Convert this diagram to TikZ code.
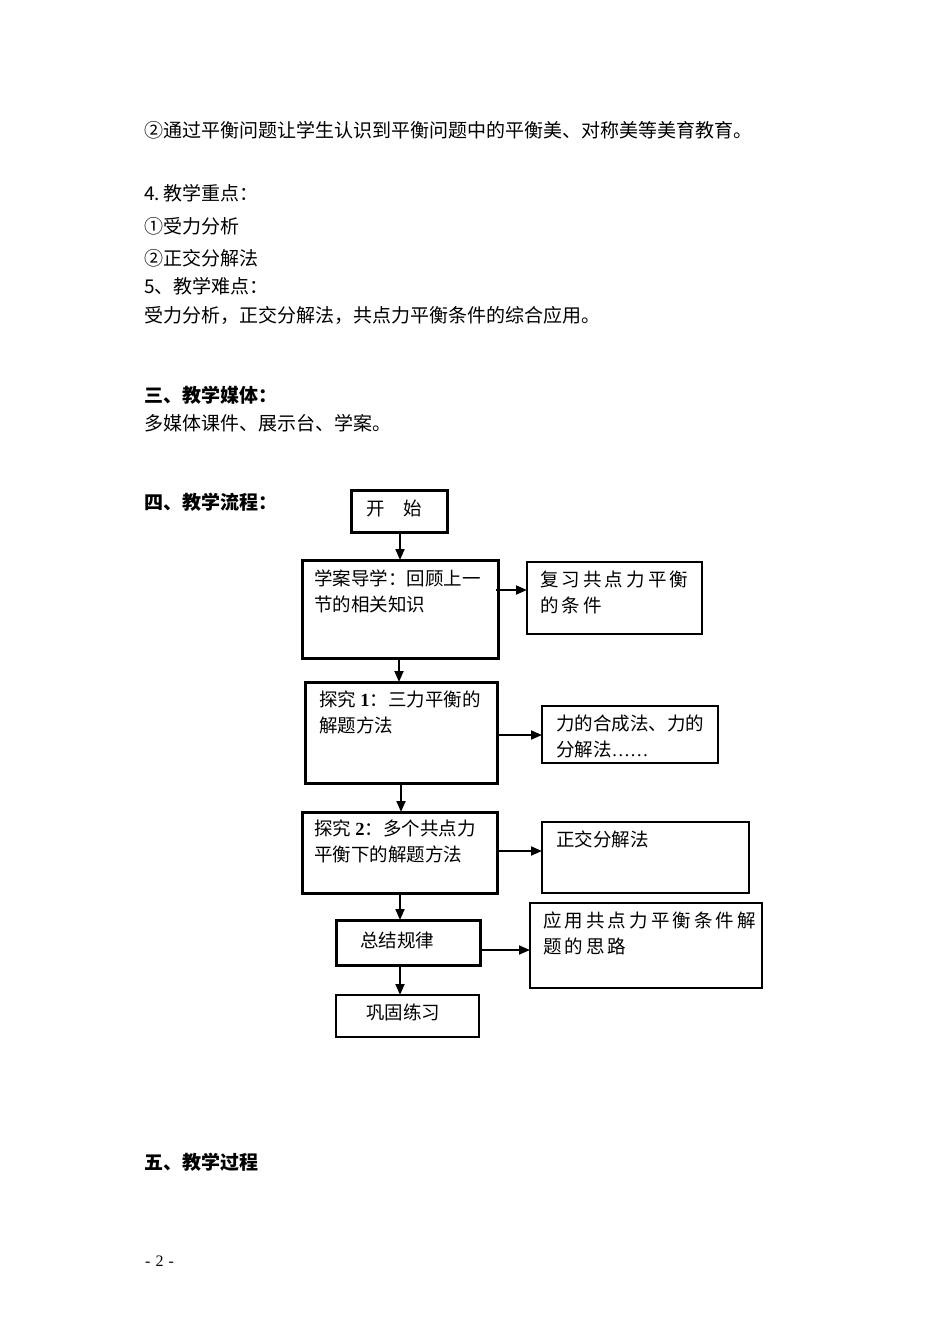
\documentclass[tikz,border=0pt]{standalone}
\usepackage{fontspec}
\setmainfont{Liberation Serif}
\newfontfamily\cjk{Noto Sans CJK SC}
\usetikzlibrary{arrows.meta}
\begin{document}
\begin{tikzpicture}[x=1pt,y=-1pt,
  txt/.style={anchor=base west,inner sep=0pt,font=\cjk\fontsize{19}{22}\selectfont},
  head/.style={anchor=base west,inner sep=0pt,font=\cjk\bfseries\fontsize{19}{22}\selectfont},
  boxt/.style={anchor=north west,inner sep=0pt,align=left,font=\cjk\fontsize{18.5}{25.5}\selectfont},
  thickbox/.style={draw,line width=3pt},
  thinbox/.style={draw,line width=1.5pt},
  arr/.style={line width=1.8pt,-{Triangle[length=11pt,width=9pt]}}
]
\useasboundingbox (0,0) rectangle (950,1344);
\fill[white] (0,0) rectangle (950,1344);

% body text
\node[txt] (t1) at (144,137) {②通过平衡问题让学生认识到平衡问题中的平衡美、对称美等美育教育。};
\node[txt] (t2) at (144,200) {4.\,教学重点：};
\node[txt] (t3) at (144,233) {①受力分析};
\node[txt] (t4) at (144,265) {②正交分解法};
\node[txt] (t5) at (144,293) {5、教学难点：};
\node[txt] (t6) at (144,322) {受力分析，正交分解法，共点力平衡条件的综合应用。};
\node[head] (h3) at (144,402) {三、教学媒体：};
\node[txt] (t7) at (144,430) {多媒体课件、展示台、学案。};
\node[head] (h4) at (144,509) {四、教学流程：};
\node[head] (h5) at (144,1169) {五、教学过程};
\node[anchor=base west,inner sep=0pt,font=\fontsize{16}{18}\selectfont] (pg) at (145,1266) {-\hspace{5pt}2\hspace{5pt}-};

% flow boxes
\draw[thickbox] (351,490) rectangle (447,532);
\node[boxt] (start) at (366,500) {开\hspace{19pt}始};
\coordinate (startB) at (400,532);

\draw[thickbox] (302,560) rectangle (498,658);
\node[boxt] (b1) at (314,570) {学案导学：回顾上一\\节的相关知识};
\coordinate (b1T) at (400,560);
\coordinate (b1B) at (399,658);
\coordinate (b1R) at (496,590);

\draw[thinbox] (527,562) rectangle (702,634);
\node[boxt] (r1) at (540,571) {复\,习\,共\,点\,力\,平\,衡\\的\,条\,件};
\coordinate (r1L) at (527,590);

\draw[thickbox] (305,682) rectangle (497,783);
\node[boxt] (b2) at (319,691) {探究 {\fontspec{Liberation Serif}\bfseries 1}：三力平衡的\\解题方法};
\coordinate (b2T) at (399,682);
\coordinate (b2B) at (401,783);
\coordinate (b2R) at (497,735);

\draw[thinbox] (542,706) rectangle (718,763);
\node[boxt] (r2) at (556,715) {力的合成法、力的\\分解法{\fontspec{Liberation Serif}……}};
\coordinate (r2L) at (542,735);

\draw[thickbox] (302,812) rectangle (497,893);
\node[boxt] (b3) at (314,820) {探究 {\fontspec{Liberation Serif}\bfseries 2}：多个共点力\\平衡下的解题方法};
\coordinate (b3T) at (401,812);
\coordinate (b3B) at (400,893);
\coordinate (b3R) at (497,851);

\draw[thinbox] (542,822) rectangle (749,893);
\node[boxt] (r3) at (556,831) {正交分解法};
\coordinate (r3L) at (542,851);

\draw[thickbox] (336,920) rectangle (480,965);
\node[boxt] (b4) at (360,932) {总结规律};
\coordinate (b4T) at (400,920);
\coordinate (b4B) at (400,965);
\coordinate (b4R) at (481,950);

\draw[thinbox] (530,903) rectangle (762,988);
\node[boxt] (r4) at (543,912) {应\,用\,共\,点\,力\,平\,衡\,条\,件\,解\\题\,的\,思\,路};
\coordinate (r4L) at (530,950);

\draw[line width=2.2pt] (336,995) rectangle (479,1037);
\node[boxt] (b5) at (366,1004) {巩固练习};
\coordinate (b5T) at (400,995);

% connectors
\draw[arr] (startB) -- (b1T);
\draw[arr] (b1B) -- (b2T);
\draw[arr] (b2B) -- (b3T);
\draw[arr] (b3B) -- (b4T);
\draw[arr] (b4B) -- (b5T);
\draw[arr] (b1R) -- (r1L);
\draw[arr] (b2R) -- (r2L);
\draw[arr] (b3R) -- (r3L);
\draw[arr] (b4R) -- (r4L);
\end{tikzpicture}
\end{document}
